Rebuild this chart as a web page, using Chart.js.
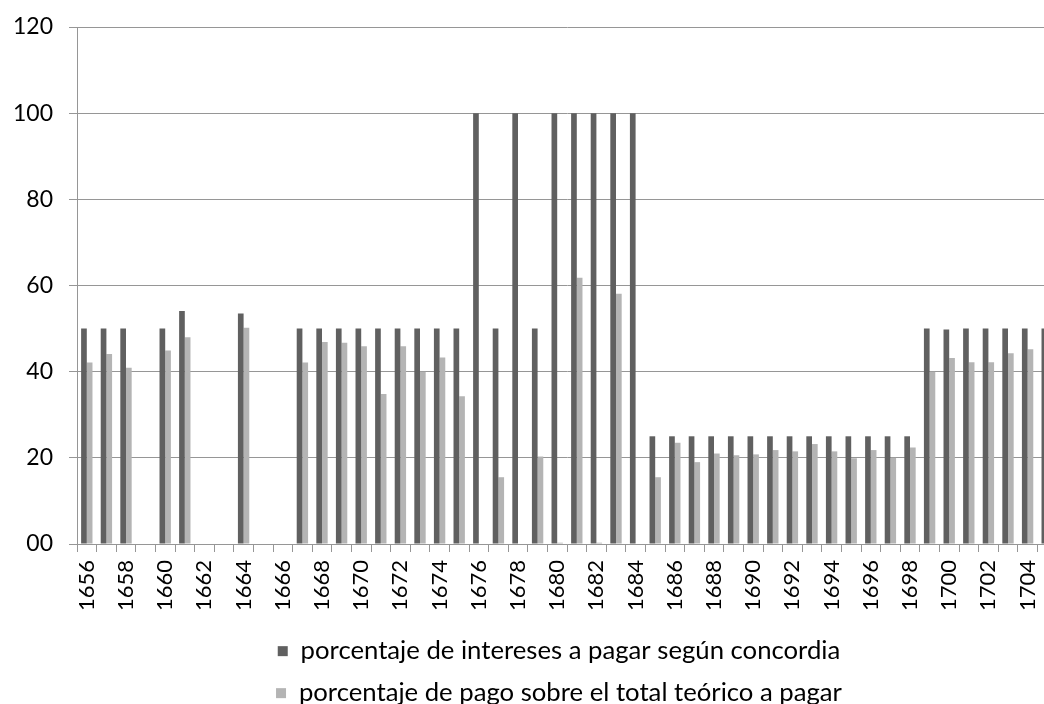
<!DOCTYPE html>
<html lang="es">
  <head>
    <meta charset="UTF-8">
    <title>Intereses</title>
    <script src="https://cdn.jsdelivr.net/npm/chart.js"></script>
    <style>
      html, body { margin: 0; padding: 0; overflow: hidden; background: #fff; }
      #wrap { width: 1044px; height: 704px; overflow: hidden; }
    </style>
  </head>
  <body>
    <div id="wrap"><canvas id="grafico" width="1058" height="716"></canvas></div>
    <script>
        // Años (el último sale cortado en el original)
        const anos = ['1656','1657','1658','1659','1660','1661','1662','1663','1664','1665',
                      '1666','1667','1668','1669','1670','1671','1672','1673','1674','1675',
                      '1676','1677','1678','1679','1680','1681','1682','1683','1684','1685',
                      '1686','1687','1688','1689','1690','1691','1692','1693','1694','1695',
                      '1696','1697','1698','1699','1700','1701','1702','1703','1704','1705'];

        // porcentaje de intereses a pagar según concordia
        const intereses = [50, 50, 50, null, 50, 54.1, null, null, 53.5, null,
                           null, 50, 50, 50, 50, 50, 50, 50, 50, 50,
                           100, 50, 100, 50, 100, 100, 100, 100, 100, 25,
                           25, 25, 25, 25, 25, 25, 25, 25, 25, 25,
                           25, 25, 25, 50, 49.8, 50, 50, 50, 50, 50];

        // porcentaje de pago sobre el total teórico a pagar
        const pagos = [42.1, 44.1, 40.9, null, 44.9, 48.0, null, null, 50.2, null,
                       null, 42.1, 46.9, 46.7, 45.9, 34.8, 45.9, 40.0, 43.3, 34.3,
                       null, 15.5, null, 20.3, 0.3, 61.8, 0.3, 58.1, null, 15.5,
                       23.5, 19.0, 21.0, 20.6, 20.8, 21.8, 21.5, 23.2, 21.5, 19.9,
                       21.8, 20.0, 22.4, 40.0, 43.2, 42.2, 42.2, 44.3, 45.2, 45.0];

        const gris = '#969696';

        // correr un poco la leyenda a la izquierda, como en el original
        const moverLeyenda = {
            id: 'moverLeyenda',
            afterLayout(chart) {
                if (chart.legend) { chart.legend.left -= 8; chart.legend.right -= 8; }
            }
        };

        const grafico = new Chart(document.getElementById('grafico'), {
            type: 'bar',
            data: {
                labels: anos,
                datasets: [
                    { label: 'porcentaje de intereses a pagar según concordia', data: intereses,
                      backgroundColor: '#606060' },
                    { label: 'porcentaje de pago sobre el total teórico a pagar', data: pagos,
                      backgroundColor: '#b4b4b4' }
                ]
            },
            options: {
                responsive: false,
                animation: false,
                devicePixelRatio: 1,
                categoryPercentage: 0.58,
                barPercentage: 1,
                layout: { padding: { top: 27, right: 1, left: 0, bottom: 0 } },
                plugins: {
                    tooltip: { enabled: false },
                    legend: {
                        position: 'bottom',
                        fullSize: false,
                        labels: { font: { family: 'Lato', size: 25.7 }, color: '#000',
                                  boxWidth: 10, boxHeight: 10, padding: 16.3 }
                    }
                },
                scales: {
                    x: {
                        grid: { drawOnChartArea: false, drawTicks: true, tickLength: 8, color: gris, offset: true },
                        border: { color: gris },
                        ticks: {
                            font: { family: 'Lato', size: 22 }, color: '#000', autoSkip: false,
                            minRotation: 90, maxRotation: 90, padding: 8,
                            callback: (v, i) => i % 2 === 0 ? anos[i] : ''
                        },
                        afterFit: (eje) => { eje.height = 78; eje.paddingLeft = 0; eje.paddingRight = 0; }
                    },
                    y: {
                        min: 0, max: 120,
                        grid: { color: gris, tickLength: 8 },
                        border: { color: gris },
                        ticks: {
                            stepSize: 20, font: { family: 'Lato', size: 23 }, color: '#000', padding: 16,
                            callback: (v) => v === 0 ? '00' : v
                        },
                        afterFit: (eje) => { eje.width = 77; eje.paddingTop = 0; eje.paddingBottom = 0; }
                    }
                }
            },
            plugins: [moverLeyenda]
        });
    </script>
  </body>
</html>
